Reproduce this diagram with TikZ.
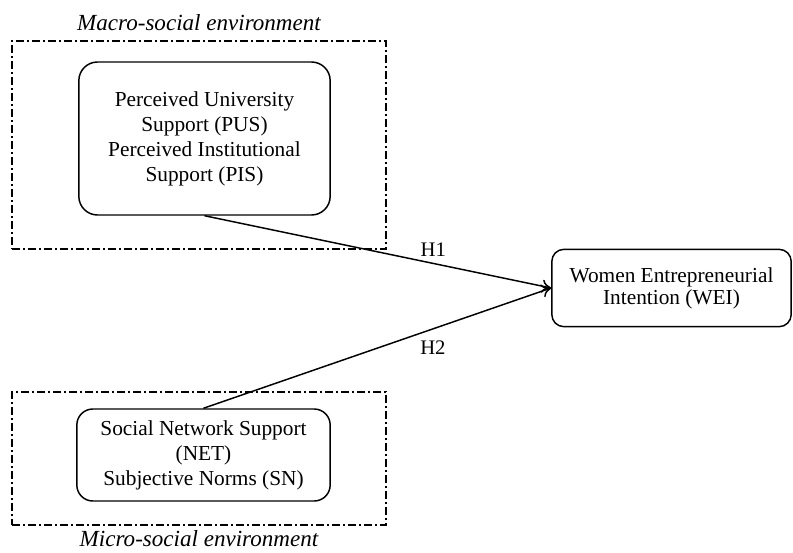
\documentclass[tikz,border=0pt]{standalone}
\usepackage{fontspec}
\setmainfont{Liberation Serif}
\usetikzlibrary{positioning,arrows.meta}

\begin{document}
\begin{tikzpicture}[
    x=0.75pt, y=-0.75pt,
    >={To[length=7pt, width=10pt]},
    factor/.style={draw, rounded corners=14pt, align=center, line width=1.1pt, font=\fontsize{16}{18.75}\selectfont},
    envframe/.style={draw, line width=0.9pt, minimum width=280.5pt, dash pattern=on 6pt off 2.25pt on 1.5pt off 2.25pt},
    envlabel/.style={font=\fontsize{17.3}{20}\selectfont\itshape},
    hyp/.style={font=\fontsize{15.5}{18}\selectfont}
]
    \useasboundingbox (0,0) rectangle (793,553);
    % Frames
    \node[envframe, minimum height=156pt] (macro) at (199,145) {};
    \node[envframe, minimum height=99.75pt] (micro) at (199,458.5) {};
    \node[envlabel, above=4pt of macro] (macrolabel) {Macro-social environment};
    \node[envlabel, below=0pt of micro] (microlabel) {Micro-social environment};

    % Nodes
    \node[factor, minimum width=188.5pt, minimum height=114.75pt] (pus) at (204.5,138.5)
        {Perceived University\\Support (PUS)\\Perceived Institutional\\Support (PIS)};
    \node[factor, rounded corners=12pt, minimum width=190pt, minimum height=69pt] (net) at (203.5,455)
        {Social Network Support\\(NET)\\Subjective Norms (SN)};
    \node[factor, rounded corners=9pt, minimum width=179.5pt, minimum height=58pt,
        font=\fontsize{16}{16.5}\selectfont] (wei) at (671.5,288)
        {Women Entrepreneurial\\Intention (WEI)};

    % Arrows
    \draw[->, line width=1.1pt] (pus.south) -- node[hyp, pos=0.66, above, yshift=1pt] {H1} (wei.west);
    \draw[->, line width=1.1pt] (net.north) -- node[hyp, pos=0.66, below, yshift=-5pt] {H2} (wei.west);
\end{tikzpicture}
\end{document}
